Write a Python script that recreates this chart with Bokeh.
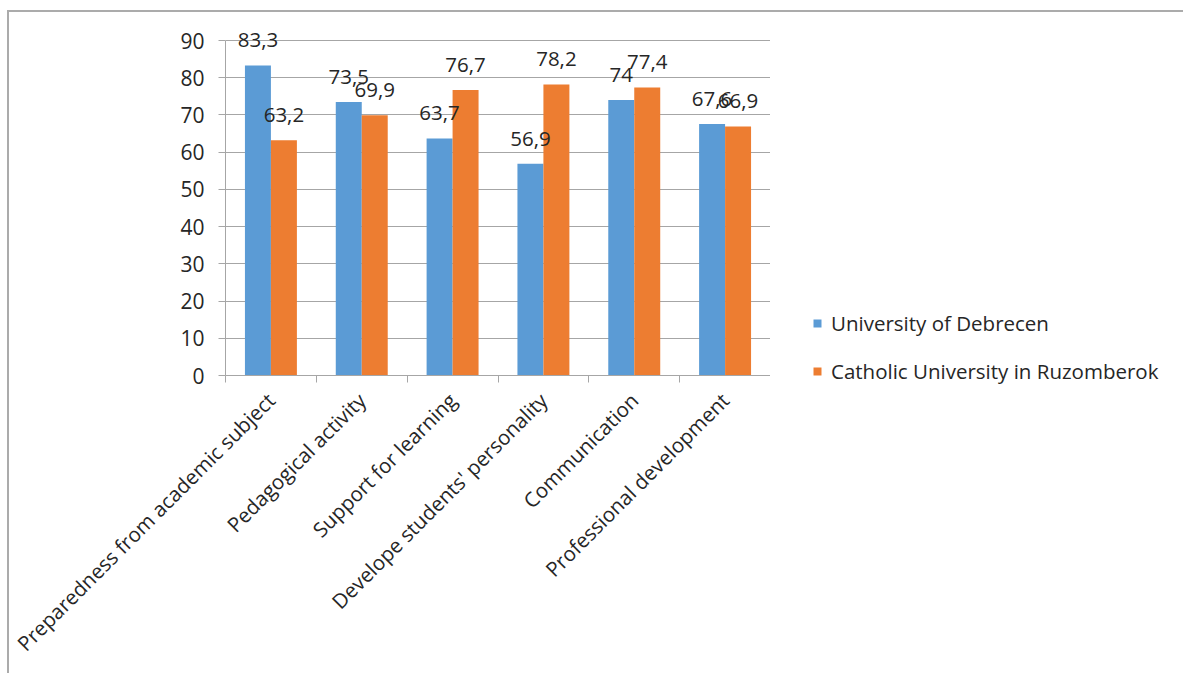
import math
from bokeh.plotting import figure
from bokeh.layouts import row, column
from bokeh.models import (Range1d, FixedTicker, ColumnDataSource, LabelSet,
                          Legend, LegendItem)
from bokeh.core.properties import value
from bokeh.transform import dodge
from bokeh.embed import file_html
from bokeh.resources import INLINE

categories = ["Preparedness from academic subject", "Pedagogical activity",
              "Support for learning", "Develope students' personality",
              "Communication", "Professional development"]
series_names = ["University of Debrecen", "Catholic University in Ruzomberok"]
debrecen = [83.3, 73.5, 63.7, 56.9, 74.0, 67.6]
ruzomberok = [63.2, 69.9, 76.7, 78.2, 77.4, 66.9]
debrecen_labels = ["83,3", "73,5", "63,7", "56,9", "74", "67,6"]
ruzomberok_labels = ["63,2", "69,9", "76,7", "78,2", "77,4", "66,9"]
y_ticks = [0, 10, 20, 30, 40, 50, 60, 70, 80, 90]

BLUE = "#5B9BD5"
ORANGE = "#ED7D31"
GRID = "#A6A6A6"
TEXT = "#262626"
FONT = "Open Sans"

# page offset produced by the outer chart border (css margin + border)
OX, OY = 9, 12
PAGE_W, PAGE_H = 1183, 673
FRAME_L, FRAME_R, Y0_PAGE, Y90_PAGE = 225, 770, 375, 40

n = len(categories)
centers = [i + 0.5 for i in range(n)]
src = ColumnDataSource(dict(x=centers, a=debrecen, b=ruzomberok,
                            la=debrecen_labels, lb=ruzomberok_labels))

px_per_unit = (Y0_PAGE - Y90_PAGE) / 90.0
y_top = 90 + (Y90_PAGE - OY) / px_per_unit
H = PAGE_H - OY

p = figure(width=FRAME_R - OX, height=H, output_backend="svg",
           toolbar_location=None,
           x_range=Range1d(0, n), y_range=Range1d(0, y_top))
p.min_border_left = FRAME_L - OX
p.min_border_right = 0
p.min_border_top = 0
p.min_border_bottom = PAGE_H - Y0_PAGE
p.outline_line_color = None
p.background_fill_color = "white"
p.border_fill_color = "white"

bw = 0.286
ra = p.vbar(x=dodge("x", -bw / 2, range=p.x_range), top="a", width=bw, source=src,
            fill_color=BLUE, line_color=None)
rb = p.vbar(x=dodge("x", bw / 2, range=p.x_range), top="b", width=bw, source=src,
            fill_color=ORANGE, line_color=None)

for col, lab, off in (("a", "la", -bw / 2), ("b", "lb", bw / 2)):
    ls = LabelSet(x=dodge("x", off, range=p.x_range), y=col, text=lab, source=src,
                  text_align="center", text_baseline="middle", y_offset=25,
                  text_font=value(FONT), text_font_size="20.5px", text_color=TEXT)
    p.add_layout(ls)

# axes
p.xaxis.ticker = FixedTicker(ticks=centers, minor_ticks=list(range(n + 1)))
p.xaxis.major_label_overrides = {c: categories[i] for i, c in enumerate(centers)}
p.xaxis.major_label_orientation = math.pi / 4
p.xaxis.major_tick_line_color = None
p.xaxis.major_tick_in = 0
p.xaxis.major_tick_out = 0
p.xaxis.minor_tick_line_color = GRID
p.xaxis.minor_tick_in = 0
p.xaxis.minor_tick_out = 7
p.xaxis.axis_line_color = GRID
p.xaxis.major_label_standoff = 14
p.xaxis.major_label_text_font = FONT
p.xaxis.major_label_text_font_size = "20.5px"
p.xaxis.major_label_text_color = TEXT

p.yaxis.ticker = FixedTicker(ticks=y_ticks)
p.yaxis.bounds = (0, 90)
p.yaxis.axis_line_color = GRID
p.yaxis.major_tick_line_color = GRID
p.yaxis.major_tick_in = 0
p.yaxis.major_tick_out = 7
p.yaxis.minor_tick_line_color = None
p.yaxis.major_label_standoff = 14
p.yaxis.major_label_text_font = FONT
p.yaxis.major_label_text_font_size = "21px"
p.yaxis.major_label_text_color = TEXT

p.xgrid.grid_line_color = None
p.ygrid.grid_line_color = GRID
p.ygrid.grid_line_width = 1

# legend panel (separate plot to the right, so nothing is clipped)
q = figure(width=PAGE_W - FRAME_R, height=H, output_backend="svg",
           toolbar_location=None, x_range=Range1d(0, 1), y_range=Range1d(0, 1),
           min_border=0)
q.axis.visible = False
q.grid.visible = False
q.outline_line_color = None
q.border_fill_color = "white"
proxy = dict(x=[float("nan")], top=[float("nan")])
qa = q.vbar(x="x", top="top", width=0.1, source=ColumnDataSource(proxy),
            fill_color=BLUE, line_color=None)
qb = q.vbar(x="x", top="top", width=0.1, source=ColumnDataSource(proxy),
            fill_color=ORANGE, line_color=None)

legend = Legend(items=[LegendItem(label=series_names[0], renderers=[qa]),
                       LegendItem(label=series_names[1], renderers=[qb])],
                location=(812 - FRAME_R, PAGE_H - 385), orientation="vertical")
legend.glyph_width = 10
legend.glyph_height = 10
legend.label_text_font = FONT
legend.label_text_font_size = "20.5px"
legend.label_text_color = TEXT
legend.label_height = 20
legend.spacing = 20
legend.padding = 0
legend.margin = 0
legend.border_line_color = None
legend.background_fill_alpha = 0
legend.label_standoff = 9
q.add_layout(legend, "center")

layout = row(p, column(q), spacing=0,
             styles={"margin-left": "7px", "margin-top": "10px",
                     "border-left": "2px solid #ABABAB",
                     "border-top": "2px solid #ABABAB"})

open("out.html", "w").write(file_html(layout, INLINE))
